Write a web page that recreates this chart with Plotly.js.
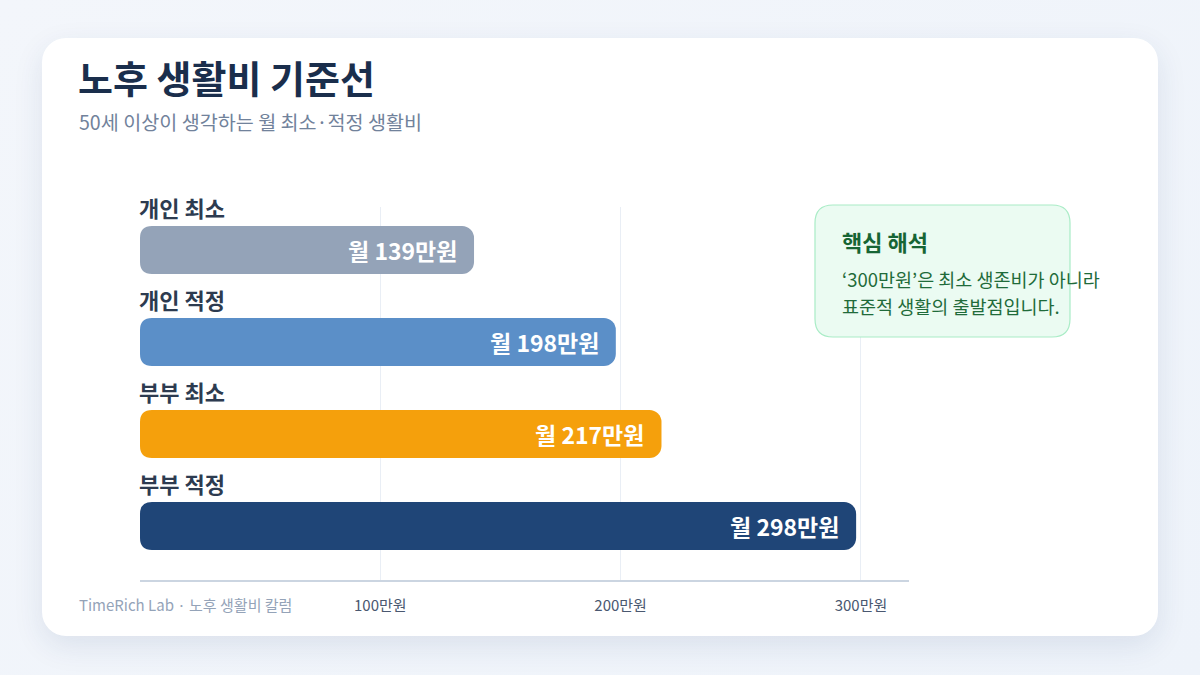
<!DOCTYPE html>
<html><head><meta charset="utf-8">
<script src="https://cdn.plot.ly/plotly-3.0.1.min.js"></script>
<style>
html,body{margin:0;padding:0;width:1200px;height:675px;overflow:hidden;background:linear-gradient(135deg,#f3f6fb 0%,#eef3fa 100%);font-family:"Noto Sans CJK KR","Noto Sans",sans-serif;}
#card{position:absolute;left:42px;top:38px;width:1116px;height:598px;background:#fff;border-radius:24px;box-shadow:0 10px 30px rgba(30,60,110,0.10);}
#chart{position:absolute;left:0;top:0;width:1200px;height:675px;}
</style></head>
<body>
<div id="card"></div>
<div id="chart"></div>
<script>
const categories = ["개인 최소", "개인 적정", "부부 최소", "부부 적정"];
const values = [139, 198, 217, 298];
const barColors = ["#94a3b8", "#5b8fc8", "#f5a00c", "#1f4577"];
const tickVals = [100, 200, 300];
const tickLabels = ["100만원", "200만원", "300만원"];
const titleText = "노후 생활비 기준선";
const subtitleText = "50세 이상이 생각하는 월 최소·적정 생활비";
const footerText = "TimeRich Lab · 노후 생활비 칼럼";
const calloutTitle = "핵심 해석";
const calloutLines = ["‘300만원’은 최소 생존비가 아니라", "표준적 생활의 출발점입니다."];

const FONT = '"Noto Sans CJK KR","Noto Sans",sans-serif';
const L = 140, R = 909, T = 207, B = 580;
const W = R - L, H = B - T;
const px = x => (x - L) / W;
const py = y => (B - y) / H;

function roundRect(x0, y0, x1, y1, r) {
  const X = v => px(v).toFixed(5), Y = v => py(v).toFixed(5);
  return `M ${X(x0 + r)} ${Y(y0)} L ${X(x1 - r)} ${Y(y0)} Q ${X(x1)} ${Y(y0)} ${X(x1)} ${Y(y0 + r)} ` +
    `L ${X(x1)} ${Y(y1 - r)} Q ${X(x1)} ${Y(y1)} ${X(x1 - r)} ${Y(y1)} L ${X(x0 + r)} ${Y(y1)} ` +
    `Q ${X(x0)} ${Y(y1)} ${X(x0)} ${Y(y1 - r)} L ${X(x0)} ${Y(y0 + r)} Q ${X(x0)} ${Y(y0)} ${X(x0 + r)} ${Y(y0)} Z`;
}

const yIdx = categories.map((c, i) => i);

const trace = {
  type: 'bar', orientation: 'h',
  x: values, y: yIdx,
  marker: {color: barColors, line: {width: 0}},
  width: 0.522,
  hoverinfo: 'skip'
};

const annotations = [];
categories.forEach((c, i) => {
  annotations.push({
    x: 0, y: i, xref: 'x', yref: 'y', text: c, showarrow: false,
    xanchor: 'left', yanchor: 'middle', yshift: 43, xshift: -3,
    font: {family: FONT, size: 22, color: '#2d3b50', weight: 700}
  });
  annotations.push({
    x: values[i], y: i, xref: 'x', yref: 'y', text: '월 ' + values[i] + '만원', showarrow: false,
    xanchor: 'right', yanchor: 'middle', xshift: -15,
    font: {family: FONT, size: 23, color: '#ffffff', weight: 700}
  });
});
annotations.push({
  x: px(77), y: py(604), xref: 'paper', yref: 'paper', text: footerText, showarrow: false,
  xanchor: 'left', yanchor: 'middle', font: {family: FONT, size: 15, color: '#94a3b8'}
});
annotations.push({
  x: px(77), y: py(121), xref: 'paper', yref: 'paper', text: subtitleText, showarrow: false,
  xanchor: 'left', yanchor: 'middle', font: {family: FONT, size: 19.6, color: '#71829b'}
});
annotations.push({
  x: px(840), y: py(241), xref: 'paper', yref: 'paper', text: calloutTitle, showarrow: false,
  xanchor: 'left', yanchor: 'middle', font: {family: FONT, size: 22, color: '#166534', weight: 700}
});
calloutLines.forEach((t, i) => {
  annotations.push({
    x: px(840), y: py(279 + 27 * i), xref: 'paper', yref: 'paper', text: t, showarrow: false,
    xanchor: 'left', yanchor: 'middle', font: {family: FONT, size: 18.5, color: '#1f6b3a'}
  });
});

// white masks to round the left (base) corners of each bar
const shapes = [{
  type: 'path', xref: 'paper', yref: 'paper', layer: 'above',
  path: roundRect(815, 205, 1070, 337, 18),
  fillcolor: '#ebfbf2', line: {color: '#a9ecc6', width: 1.2}
}];
const rC = 12, hh = 24;
yIdx.forEach(i => {
  shapes.push({
    type: 'path', xref: 'x', yref: 'y', layer: 'above',
    xsizemode: 'pixel', xanchor: 0, ysizemode: 'pixel', yanchor: i,
    path: `M -1 ${hh + 1} L ${rC} ${hh + 1} L ${rC} ${hh} Q 0 ${hh} 0 ${hh - rC} L -1 ${hh - rC} Z ` +
          `M -1 ${-hh - 1} L ${rC} ${-hh - 1} L ${rC} ${-hh} Q 0 ${-hh} 0 ${-hh + rC} L -1 ${-hh + rC} Z`,
    fillcolor: '#ffffff', line: {width: 0}
  });
});

const layout = {
  width: 1200, height: 675,
  margin: {l: L, r: 1200 - R, t: T, b: 675 - B, pad: 0},
  paper_bgcolor: 'rgba(0,0,0,0)', plot_bgcolor: 'rgba(0,0,0,0)',
  font: {family: FONT},
  barcornerradius: 12,
  title: {
    text: titleText, x: 78 / 1200, xref: 'container', xanchor: 'left',
    y: 1 - 80 / 675, yref: 'container', yanchor: 'middle',
    font: {family: FONT, size: 38, color: '#1a2e4c', weight: 700}
  },
  xaxis: {
    range: [0, 320], tickvals: tickVals, ticktext: tickLabels,
    showgrid: true, gridcolor: '#e9eef5', gridwidth: 1,
    zeroline: false, showline: true, linecolor: '#cbd5e1', linewidth: 2,
    ticks: '', ticklabelstandoff: 11,
    tickfont: {family: FONT, size: 15, color: '#4a5870'}, fixedrange: true
  },
  yaxis: {
    range: [3.587, -0.467], showticklabels: false, showgrid: false, zeroline: false,
    showline: false, fixedrange: true
  },
  shapes: shapes,
  annotations: annotations,
  showlegend: false
};

Plotly.newPlot('chart', [trace], layout, {displayModeBar: false, staticPlot: true});
</script>
</body></html>
